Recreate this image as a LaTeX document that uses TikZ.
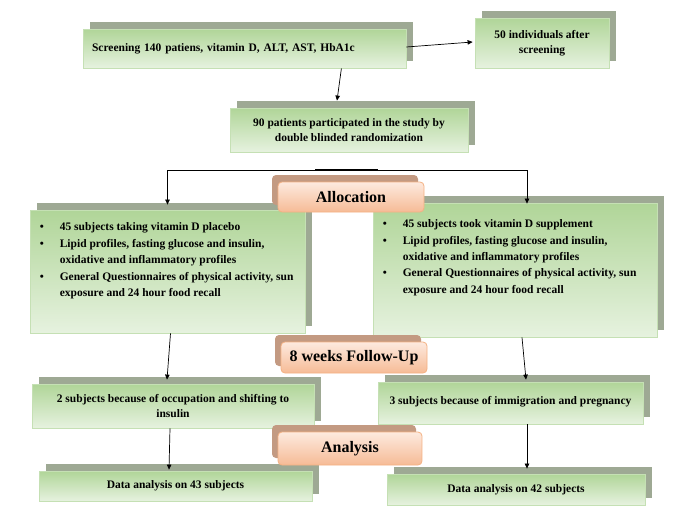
\documentclass[tikz,border=0pt]{standalone}
\usepackage{fontspec}
\setmainfont{Liberation Serif}
\usetikzlibrary{shadows,arrows.meta,calc}
\definecolor{gdark}{HTML}{B0D598}
\definecolor{glight}{HTML}{E6F2DF}
\definecolor{gborder}{HTML}{C5E0B4}
\definecolor{gshadow}{HTML}{9EA994}
\definecolor{ptop}{HTML}{FDEADF}
\definecolor{pbot}{HTML}{F6BB96}
\definecolor{pborder}{HTML}{F4B183}
\definecolor{pshadow}{HTML}{C39A82}
\tikzset{
  gbox/.style={draw=gborder, line width=0.8pt, top color=gdark, bottom color=glight,
    inner sep=0pt, font=\bfseries\fontsize{11.5}{15.5}\selectfont, align=center,
    drop shadow={shadow xshift=7pt, shadow yshift=7pt, fill=gshadow, opacity=1}},
  pbox/.style={draw=pborder, line width=0.8pt, rounded corners=4pt, top color=ptop,
    bottom color=pbot, inner sep=0pt, font=\bfseries\fontsize{16}{18}\selectfont,
    drop shadow={shadow xshift=-6pt, shadow yshift=7pt, fill=pshadow, opacity=1}},
  conn/.style={-{Triangle[length=5pt,width=4.5pt]}, line width=0.7pt, black},
  listtext/.style={anchor=north west, inner sep=0pt, align=left,
    font=\bfseries\fontsize{11.5}{16.4}\selectfont},
}
\newcommand{\bul}{\makebox[20pt][l]{\textbullet}}
\begin{document}
\begin{tikzpicture}[x=1pt,y=-1pt]
\useasboundingbox (0,0) rectangle (681,506);
% green boxes
\node[gbox, align=left, text width=305pt, inner xsep=9pt, minimum height=39pt] (screen) at (244.5,48.5)
  {Screening 140 patiens, vitamin D, ALT, AST, HbA1c};
\node[gbox, minimum width=134pt, minimum height=50pt] (indiv) at (542,43)
  {50 individuals after\\screening};
\node[gbox, minimum width=238pt, minimum height=44pt] (pat90) at (349,130)
  {90 patients participated in the study by\\double blinded randomization};
\node[gbox, minimum width=275pt, minimum height=123pt] (lbox) at (167.5,271.5) {};
\node[gbox, minimum width=284pt, minimum height=134pt] (rbox) at (515,270) {};
\node[gbox, minimum width=282pt, minimum height=44pt] (ldrop) at (173,406)
  {2 subjects because of occupation and shifting to\\insulin};
\node[gbox, minimum width=265pt, minimum height=42pt, text depth=6pt] (rdrop) at (510.5,403)
  {3 subjects because of immigration and pregnancy};
\node[gbox, minimum width=273pt, minimum height=30pt] (lfinal) at (175.5,486)
  {Data analysis on 43 subjects};
\node[gbox, minimum width=258pt, minimum height=31pt] (rfinal) at (516,489.5)
  {Data analysis on 42 subjects};
% lists
\node[listtext] (llist) at ([xshift=10pt,yshift=-9.6pt]lbox.north west) {%
\begin{tabular}{@{}l@{}}
\bul 45 subjects taking vitamin D placebo\\
\bul Lipid profiles, fasting glucose and insulin,\\
\hspace{20pt}oxidative and inflammatory profiles\\
\bul General Questionnaires of physical activity, sun\\
\hspace{20pt}exposure and 24 hour food recall
\end{tabular}};
\node[listtext] (rlist) at ([xshift=10pt,yshift=-13.4pt]rbox.north west) {%
\begin{tabular}{@{}l@{}}
\bul 45 subjects took vitamin D supplement\\
\bul Lipid profiles, fasting glucose and insulin,\\
\hspace{20pt}oxidative and inflammatory profiles\\
\bul General Questionnaires of physical activity, sun\\
\hspace{20pt}exposure and 24 hour food recall
\end{tabular}};
% peach labels
\node[pbox, minimum width=146pt, minimum height=30pt] (alloc) at (351,197) {Allocation};
\node[pbox, minimum width=146pt, minimum height=31pt] (follow) at (354,357.5) {8 weeks Follow-Up};
\node[pbox, minimum width=144pt, minimum height=33pt] (analysis) at (350,448.5) {Analysis};
% connectors
\coordinate (split) at (347,170);
\draw[conn] ([yshift=1.5pt]screen.east) -- ([xshift=-2pt,yshift=1pt]indiv.west);
\draw[conn] ($(screen.south east)+(-65,0)$) -- ($(pat90.north)+(-12,-7)$);
\draw[conn] (split) -| ([yshift=5pt]lbox.north);
\draw[conn] (split) -| ([xshift=12pt,yshift=-1pt]rbox.north);
\draw[line width=1.4pt] ($(split)+(-32,0)$) -- ($(split)+(31,0)$);
\draw[conn] ([xshift=3pt]lbox.south) -- ([xshift=-6pt,yshift=4pt]ldrop.north);
\draw[conn] ([xshift=7pt]rbox.south) -- ([xshift=15.5pt,yshift=2pt]rdrop.north);
\draw[conn] ([xshift=-3pt]ldrop.south) -- ([xshift=-6.5pt,yshift=1pt]lfinal.north);
\draw[conn] ([xshift=16.5pt]rdrop.south) -- ([xshift=11pt,yshift=5pt]rfinal.north);
\end{tikzpicture}
\end{document}
